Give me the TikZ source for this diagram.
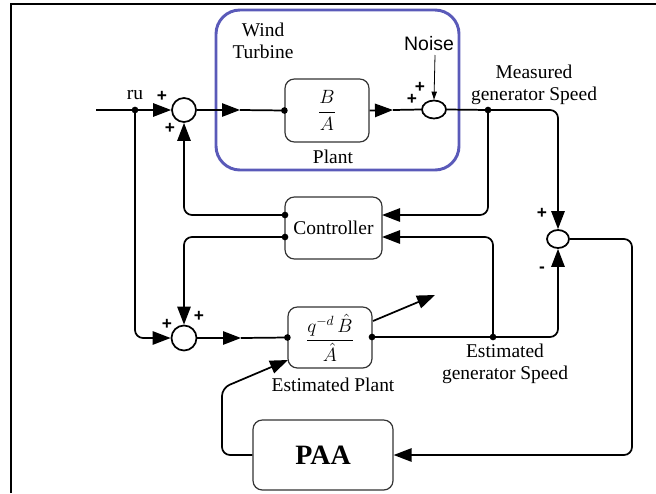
\documentclass[tikz,border=0pt]{standalone}
\usepackage{amsmath}
\usepackage{fontspec}
\setmainfont{Liberation Serif}
\newfontfamily\arialfont{Liberation Sans}
\usetikzlibrary{arrows.meta,shapes.geometric}
\definecolor{wtblue}{RGB}{90,90,185}
\tikzset{
  lbl/.style={font=\fontsize{14.6}{17}\selectfont, inner sep=0pt},
  sgn/.style={font=\arialfont\bfseries\fontsize{13}{15}\selectfont, inner sep=0pt},
  blk/.style={draw=black!80, line width=0.9pt, rounded corners=7pt, fill=white, inner sep=0pt, font=\fontsize{14.6}{17}\selectfont},
  sumc/.style={draw, line width=1.3pt, circle, fill=white, inner sep=0pt},
  sume/.style={draw, line width=1.3pt, ellipse, fill=white, inner sep=0pt},
  wire/.style={line width=1.3pt},
  arr/.style={line width=1.3pt, -{Triangle[length=13.5pt,width=10pt]}},
  thinarr/.style={line width=0.6pt, -{Triangle[length=6pt,width=4pt]}},
  dot/.style={circle, fill=black, inner sep=0pt, minimum size=5pt},
}
\begin{document}
\begin{tikzpicture}[x=0.75pt,y=-0.75pt]
\useasboundingbox (0,0) rectangle (656,493);
\draw[line width=1.6pt] (11,493) -- (11,4) -- (656,4);

% wind turbine enclosure
\node[draw=wtblue, line width=2.2pt, rounded corners=18pt, minimum width={243*0.75pt}, minimum height={160*0.75pt}, inner sep=0pt] (wt) at (337.5,90) {};
\node[lbl, align=center] (wtl) at (263,41) {Wind\\[0pt]Turbine};

% blocks
\node[blk, minimum width={84*0.75pt}, minimum height={63*0.75pt}] (plant) at (327,110.5) {$\dfrac{B}{A}$};
\node[blk, minimum width={97*0.75pt}, minimum height={62*0.75pt}] (ctrl) at (333.5,228) {Controller};
\node[blk, minimum width={84*0.75pt}, minimum height={61*0.75pt}] (est) at (330,337.5) {$\dfrac{q^{-d}\,\hat{B}}{\hat{A}}$};
\node[blk, minimum width={140*0.75pt}, minimum height={70*0.75pt}, font=\fontsize{21}{24}\selectfont\bfseries] (paa) at (323,455) {PAA};

% summing junctions
\node[sumc, minimum size={24*0.75pt}] (s1) at (184,110) {};
\node[sume, minimum width={24*0.75pt}, minimum height={18*0.75pt}] (s2) at (434,109.5) {};
\node[sume, minimum width={22*0.75pt}, minimum height={18*0.75pt}] (s3) at (558,239) {};
\node[sumc, minimum size={25*0.75pt}] (s4) at (184,338) {};

% junction points and waypoints
\coordinate (in) at (96,110);
\coordinate (ru) at (135,110);
\coordinate (m1) at (240,110);
\coordinate (m2) at (393,110);
\coordinate (meas) at (488,110);
\coordinate (cl1) at (285,215);
\coordinate (cl2) at (285,237);
\coordinate (cr1) at (382,215);
\coordinate (cr2) at (382,237);
\coordinate (m3) at (241,338);
\coordinate (estR) at (372,337);
\coordinate (estdot) at (493,337);
\coordinate (k1) at (632,455);
\coordinate (k2) at (222,388);
\coordinate (estBL) at (288,360);
\coordinate (adS) at (373,321);
\coordinate (adE) at (435,295);
\coordinate (nz) at (435,55);

% labels
\node[lbl] (rul) at (135,95) {ru};
\node[lbl] (plantl) at (333,157) {Plant};
\node[font=\arialfont\fontsize{14.6}{17}\selectfont, inner sep=0pt] (noise) at (429,44) {Noise};
\node[lbl, align=center] (measl) at (534,85) {Measured\\[0pt]generator Speed};
\node[lbl] (estl) at (333,385) {Estimated Plant};
\node[lbl, align=center] (estsl) at (505,364) {Estimated\\[0pt]generator Speed};
\node[sgn] (p1) at (162,96) {+};
\node[sgn] (p2) at (170,128) {+};
\node[sgn] (p3) at (420,87) {+};
\node[sgn] (p4) at (412,99) {+};
\node[sgn] (p5) at (542,213) {+};
\node[sgn] (p6) at (542,270) {-};
\node[sgn] (p7) at (167,324) {+};
\node[sgn] (p8) at (199,316) {+};

% connectors
\draw[wire] (in) -- (ru);
\draw[arr] (ru) -- (s1.west);
\draw[arr] (s1.east) -- (m1);
\draw[wire] (m1) -- (plant.west);
\draw[arr] (plant.east) -- (m2);
\draw[wire] (m2) -- (s2.west);
\draw[thinarr] (nz) -- (s2.north);
\draw[wire] (s2.east) -- (meas);
\draw[arr, rounded corners=6pt] (meas) -| (s3.north);
\draw[arr, rounded corners=6pt] (meas) |- (cr1);
\draw[arr, rounded corners=6pt] (cl1) -| (s1.south);
\draw[arr, rounded corners=6pt] (cl2) -| (s4.north);
\draw[arr, rounded corners=6pt] (ru) |- (s4.west);
\draw[arr] (s4.east) -- (m3);
\draw[wire] (m3) -- (est.west);
\draw[wire] (estR) -- (estdot);
\draw[arr, rounded corners=6pt] (estdot) -| (s3.south);
\draw[arr, rounded corners=6pt] (estdot) |- (cr2);
\draw[arr, rounded corners=6pt] (s3.east) -| (k1) -- (paa.east);
\draw[arr, rounded corners=6pt] (paa.west) -| (k2) -- (estBL);
\draw[arr] (adS) -- (adE);

% dots
\node[dot] (d1) at (ru) {};
\node[dot] (d2) at (plant.west) {};
\node[dot] (d3) at (meas) {};
\node[dot] (d4) at (cl1) {};
\node[dot] (d5) at (cl2) {};
\node[dot] (d6) at (est.west) {};
\node[dot] (d7) at (estR) {};
\node[dot] (d8) at (estdot) {};
\end{tikzpicture}
\end{document}
